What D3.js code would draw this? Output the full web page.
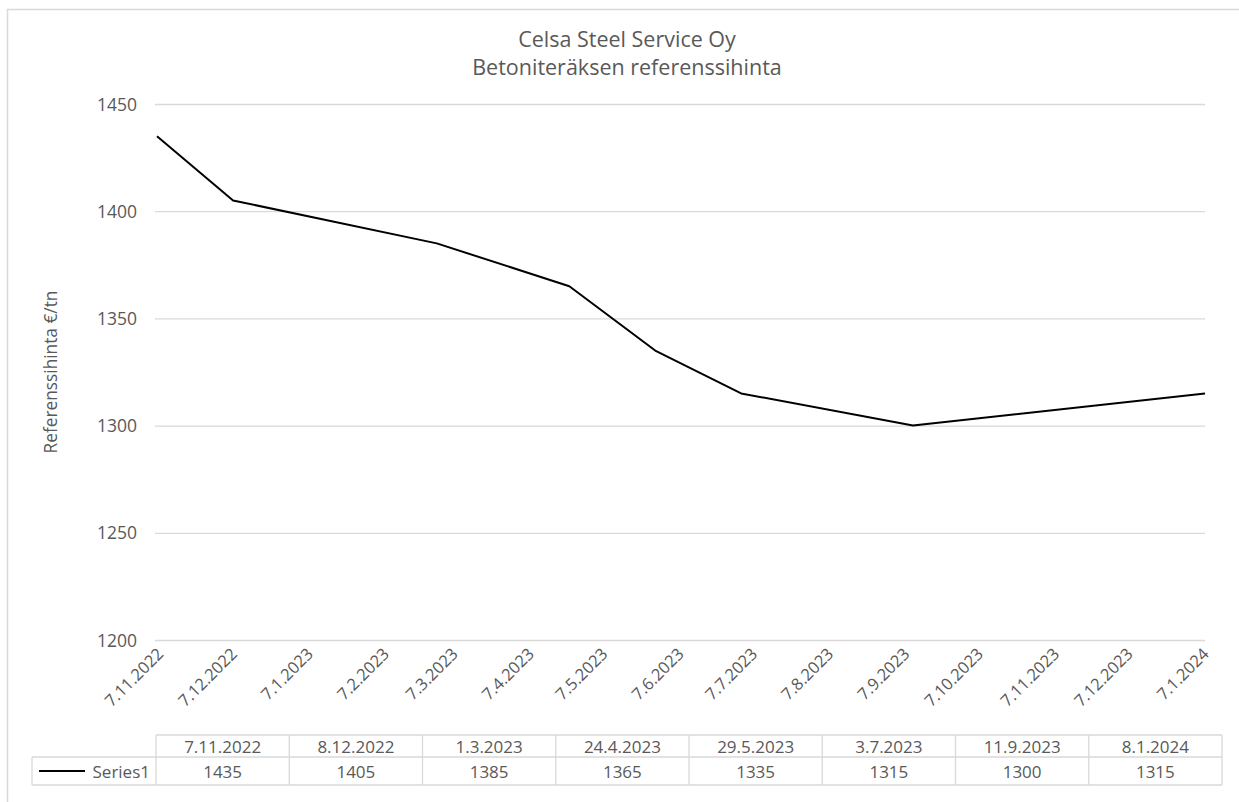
<!DOCTYPE html>
<html>
<head>
<meta charset="utf-8">
<script src="https://cdn.jsdelivr.net/npm/d3@7"></script>
<style>
  html, body { margin: 0; padding: 0; background: #fff; }
  svg { display: block; font-family: "Open Sans", "Noto Sans", sans-serif; }
</style>
</head>
<body>
<svg id="chart" width="1239" height="802"></svg>
<script>
// reference price of rebar (Celsa Steel Service Oy), Excel-style line chart with data table
var titleLines = ["Celsa Steel Service Oy", "Betoniteräksen referenssihinta"];
var yTitle = "Referenssihinta €/tn";
var seriesName = "Series1";
var dates = ["7.11.2022", "8.12.2022", "1.3.2023", "24.4.2023", "29.5.2023", "3.7.2023", "11.9.2023", "8.1.2024"];
var values = [1435, 1405, 1385, 1365, 1335, 1315, 1300, 1315];
var tickLabels = ["7.11.2022", "7.12.2022", "7.1.2023", "7.2.2023", "7.3.2023", "7.4.2023", "7.5.2023",
  "7.6.2023", "7.7.2023", "7.8.2023", "7.9.2023", "7.10.2023", "7.11.2023", "7.12.2023", "7.1.2024"];
var yTicks = [1200, 1250, 1300, 1350, 1400, 1450];

var GRID = "#d9d9d9", TXT = "#595959";
var parse = d3.timeParse("%d.%m.%Y");
var pts = dates.map(function (d, i) { return { t: parse(d), v: values[i] }; });

var svg = d3.select("#chart");
var m = { l: 157, r: 1205, t: 104, b: 640 };
var x = d3.scaleTime().domain([parse(dates[0]), parse(dates[dates.length - 1])]).range([m.l, m.r]);
var y = d3.scaleLinear().domain([1200, 1450]).range([m.b, m.t]);

// chart border (runs off the right/bottom edge like the screenshot)
svg.append("rect").attr("x", 7.5).attr("y", 9.5).attr("width", 1260).attr("height", 820)
  .attr("fill", "none").attr("stroke", GRID).attr("stroke-width", 1.5);

// title
svg.append("g").selectAll("text").data(titleLines).join("text")
  .attr("x", 627).attr("y", function (d, i) { return 47 + i * 28; })
  .attr("text-anchor", "middle").attr("font-size", 21.5).attr("fill", TXT).text(function (d) { return d; });

// gridlines + y labels
var yAxis = d3.axisLeft(y).tickValues(yTicks).tickSize(-(m.r - m.l)).tickPadding(18).tickFormat(d3.format("d"));
var gy = svg.append("g").attr("transform", "translate(" + (m.l - 2) + ",0)").call(yAxis)
  .attr("font-family", null).attr("font-size", 17.5);
gy.select(".domain").remove();
gy.selectAll(".tick line").attr("stroke", GRID).attr("stroke-width", 1.3).attr("x1", 0).attr("x2", m.r - m.l + 2);
gy.selectAll(".tick text").attr("fill", TXT).attr("dy", "0.35em");

svg.append("text").attr("transform", "translate(57," + ((m.t + m.b) / 2) + ") rotate(-90)")
  .attr("text-anchor", "middle").attr("font-size", 17.3).attr("fill", TXT).text(yTitle);

// x tick labels (rotated, date axis in days)
var xAxis = d3.axisBottom(x).tickValues(tickLabels.map(parse)).tickSize(0).tickFormat(d3.timeFormat("%-d.%-m.%Y"));
var gx = svg.append("g").attr("transform", "translate(0," + m.b + ")").call(xAxis)
  .attr("font-family", null).attr("font-size", 16.5);
gx.select(".domain").remove();
gx.selectAll(".tick text").attr("fill", TXT)
  .attr("text-anchor", "end").attr("dy", 0).attr("y", 0)
  .attr("transform", "translate(7,15) rotate(-45)");

// series line
var line = d3.line().x(function (d) { return x(d.t); }).y(function (d) { return y(d.v); });
svg.append("path").datum(pts).attr("d", line).attr("fill", "none").attr("stroke", "#000")
  .attr("stroke-width", 2).attr("stroke-linejoin", "round");

// data table under the axis
var tb = { l: 156, r: 1222, y0: 735, y1: 757, y2: 785, legL: 32 };
var col = d3.scaleBand().domain(dates).range([tb.l, tb.r]);
var tg = svg.append("g").attr("fill", "none").attr("stroke", GRID).attr("stroke-width", 1.3);
tg.append("line").attr("x1", tb.l).attr("x2", tb.r).attr("y1", tb.y0).attr("y2", tb.y0);
tg.append("line").attr("x1", tb.legL).attr("x2", tb.r).attr("y1", tb.y1).attr("y2", tb.y1);
tg.append("line").attr("x1", tb.legL).attr("x2", tb.r).attr("y1", tb.y2).attr("y2", tb.y2);
tg.append("line").attr("x1", tb.legL).attr("x2", tb.legL).attr("y1", tb.y1).attr("y2", tb.y2);
tg.selectAll("line.v").data(dates).join("line").attr("class", "v")
  .attr("x1", function (d) { return col(d); }).attr("x2", function (d) { return col(d); })
  .attr("y1", tb.y0).attr("y2", tb.y2);
tg.append("line").attr("x1", tb.r).attr("x2", tb.r).attr("y1", tb.y0).attr("y2", tb.y2);

var cells = svg.append("g").attr("font-size", 17).attr("fill", TXT).attr("text-anchor", "middle");
cells.selectAll("text.h").data(dates).join("text").attr("class", "h")
  .attr("x", function (d) { return col(d) + col.bandwidth() / 2; }).attr("y", tb.y1 - 4).text(function (d) { return d; });
cells.selectAll("text.v").data(values).join("text").attr("class", "v")
  .attr("x", function (d, i) { return col(dates[i]) + col.bandwidth() / 2; }).attr("y", tb.y2 - 7).text(function (d) { return d; });

// legend key in the table
svg.append("line").attr("x1", 39).attr("x2", 85).attr("y1", (tb.y1 + tb.y2) / 2).attr("y2", (tb.y1 + tb.y2) / 2)
  .attr("stroke", "#000").attr("stroke-width", 2);
svg.append("text").attr("x", 150).attr("y", tb.y2 - 7).attr("text-anchor", "end").attr("font-size", 17)
  .attr("fill", TXT).text(seriesName);
</script>
</body>
</html>
